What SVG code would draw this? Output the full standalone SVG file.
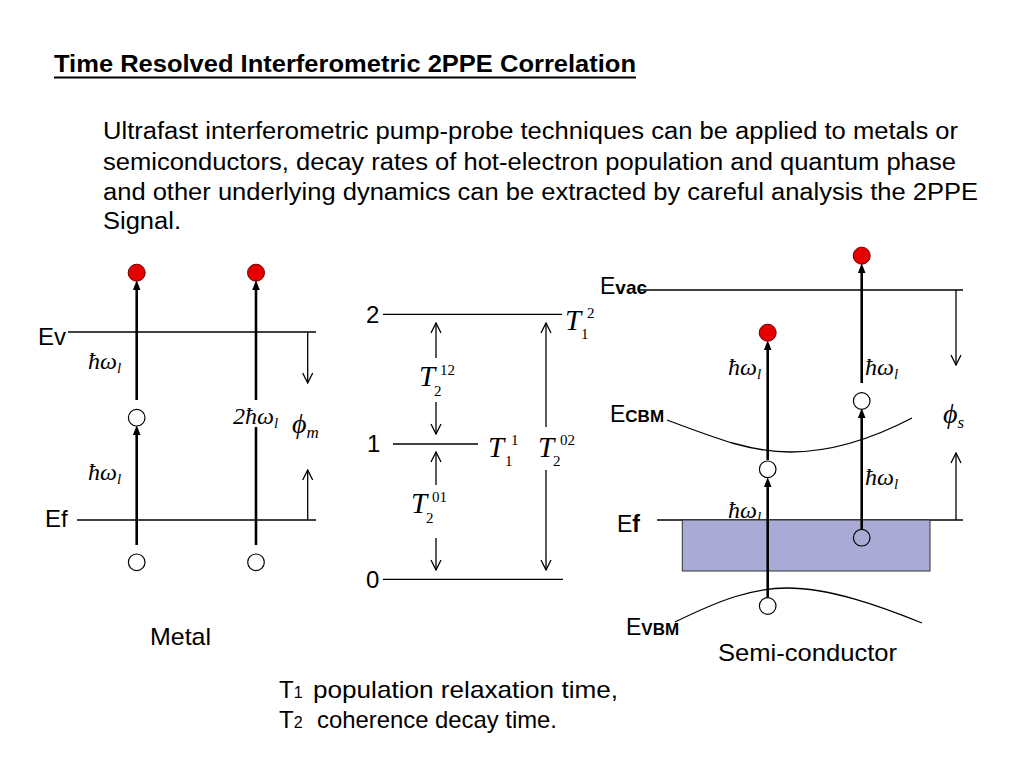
<svg xmlns="http://www.w3.org/2000/svg" width="1024" height="768" viewBox="0 0 1024 768">
<defs>
<style>
.sans{font-family:"Liberation Sans",Arial,sans-serif;fill:#000}
.math{font-family:"Liberation Serif","Times New Roman",serif;font-style:italic;fill:#000}
.idx{font-family:"Liberation Serif","Times New Roman",serif;font-style:normal;font-size:15px;fill:#000}
.bigT{font-size:29px}
.lvl{stroke:#000;stroke-width:1.3;fill:none}
.thick{stroke:#000;stroke-width:2.6;fill:none;marker-end:url(#fa)}
.thin{stroke:#000;stroke-width:1.3;fill:none;marker-end:url(#oa)}
.open{fill:#fff;stroke:#000;stroke-width:1.2}
.red{fill:#e60000;stroke:#600;stroke-width:1}
</style>
<marker id="fa" markerUnits="userSpaceOnUse" markerWidth="10" markerHeight="8" refX="2" refY="3.5" orient="auto" viewBox="0 0 9 7">
<path d="M0,0 L9,3.5 L0,7 z" fill="#000"/>
</marker>
<marker id="oa" markerUnits="userSpaceOnUse" markerWidth="12" markerHeight="12" refX="10" refY="5" orient="auto" viewBox="-1 -1 12 12">
<path d="M0,0 L10,5 L0,10" fill="none" stroke="#000" stroke-width="1.3"/>
</marker>
</defs>
<rect width="1024" height="768" fill="#fff"/>

<g id="title">
<text class="sans" x="54" y="72" font-size="23" font-weight="bold" textLength="582" lengthAdjust="spacingAndGlyphs">Time Resolved Interferometric 2PPE Correlation</text>
<line x1="54" y1="77.5" x2="636" y2="77.5" stroke="#000" stroke-width="2"/>
</g>

<g id="body" class="sans" font-size="23">
<text x="103" y="139" textLength="855" lengthAdjust="spacingAndGlyphs">Ultrafast interferometric pump-probe techniques can be applied to metals or</text>
<text x="103" y="169.5" textLength="853" lengthAdjust="spacingAndGlyphs">semiconductors, decay rates of hot-electron population and quantum phase</text>
<text x="103" y="200" textLength="875" lengthAdjust="spacingAndGlyphs">and other underlying dynamics can be extracted by careful analysis the 2PPE</text>
<text x="103" y="229" textLength="78" lengthAdjust="spacingAndGlyphs">Signal.</text>
</g>

<!-- Metal diagram -->
<g id="metal-levels">
<line class="lvl" x1="68" y1="332" x2="316" y2="332"/>
<line class="lvl" x1="77" y1="520" x2="316" y2="520"/>
<text class="sans" x="38" y="345" font-size="24">Ev</text>
<text class="sans" x="45" y="527" font-size="24">Ef</text>
<text class="sans" x="150" y="645" font-size="24" textLength="61" lengthAdjust="spacingAndGlyphs">Metal</text>
</g>

<g id="connectors">
<!-- metal -->
<line class="thick" x1="136.7" y1="400" x2="136.7" y2="288"/>
<line class="thick" x1="136.7" y1="545" x2="136.7" y2="433"/>
<line class="thick" x1="256" y1="400" x2="256" y2="288"/>
<line x1="256" y1="545" x2="256" y2="427" stroke="#000" stroke-width="2.6"/>
<line class="thin" x1="307.7" y1="332" x2="307.7" y2="383"/>
<line class="thin" x1="307.7" y1="520" x2="307.7" y2="470"/>
<!-- levels diagram -->
<line class="thin" x1="436" y1="358" x2="436" y2="323"/>
<line class="thin" x1="436" y1="402" x2="436" y2="434"/>
<line class="thin" x1="436" y1="485" x2="436" y2="452"/>
<line class="thin" x1="436" y1="538" x2="436" y2="570"/>
<line class="thin" x1="546" y1="427" x2="546" y2="323"/>
<line class="thin" x1="546" y1="470" x2="546" y2="570"/>
<!-- semiconductor -->
<line class="thin" x1="956" y1="290" x2="956" y2="365"/>
<line class="thin" x1="956" y1="520" x2="956" y2="453"/>
</g>

<g id="metal-electrons">
<circle class="red" cx="136.7" cy="272.7" r="8.5"/>
<circle class="red" cx="256" cy="272.7" r="8.5"/>
<circle class="open" cx="136.7" cy="417.7" r="8.3"/>
<circle class="open" cx="136.7" cy="562.3" r="8.3"/>
<circle class="open" cx="256" cy="562.3" r="8.3"/>
</g>

<g id="metal-labels" class="math">
<text x="88" y="369" font-size="24">ħω<tspan font-size="15" dy="4">l</tspan></text>
<text x="88" y="480" font-size="24">ħω<tspan font-size="15" dy="4">l</tspan></text>
<text x="233" y="423.5" font-size="24">2ħω<tspan font-size="15" dy="4">l</tspan></text>
<text x="292" y="433" font-size="28">ϕ<tspan font-size="17" dy="5">m</tspan></text>
</g>

<!-- Level diagram -->
<g id="levels">
<line class="lvl" x1="383" y1="314.3" x2="562" y2="314.3"/>
<line class="lvl" x1="393" y1="444" x2="478" y2="444"/>
<line class="lvl" x1="383" y1="579.3" x2="563" y2="579.3"/>
<text class="sans" x="366" y="323" font-size="24">2</text>
<text class="sans" x="367" y="452" font-size="24">1</text>
<text class="sans" x="366" y="588" font-size="24">0</text>
</g>

<g id="T12">
<text class="math bigT" x="565" y="330">T</text>
<text class="idx" x="587" y="318">2</text>
<text class="idx" x="581" y="339">1</text>
</g>
<g id="T2-12">
<text class="math bigT" x="419" y="386">T</text>
<text class="idx" x="440" y="375">12</text>
<text class="idx" x="434" y="396">2</text>
</g>
<g id="T11">
<text class="math bigT" x="488" y="457">T</text>
<text class="idx" x="511" y="445">1</text>
<text class="idx" x="505" y="466">1</text>
</g>
<g id="T2-02">
<text class="math bigT" x="538" y="457">T</text>
<text class="idx" x="560" y="445">02</text>
<text class="idx" x="553" y="466">2</text>
</g>
<g id="T2-01">
<text class="math bigT" x="411" y="513">T</text>
<text class="idx" x="432" y="502">01</text>
<text class="idx" x="426" y="523">2</text>
</g>

<!-- Semiconductor -->
<g id="semi-levels">
<line class="lvl" x1="640" y1="290" x2="963" y2="290"/>
<line class="lvl" x1="657" y1="520" x2="963" y2="520"/>
<path class="lvl" d="M667,420 C720,440 752,452 790,452 C830,452 870,440 912,418"/>
<path class="lvl" d="M675,622 C720,600 752,588 787,588 C830,588 880,606 922,623"/>
<text class="sans" x="600" y="294" font-size="23">E<tspan font-size="19" font-weight="bold">vac</tspan></text>
<text class="sans" x="610" y="422" font-size="23">E<tspan font-size="17" font-weight="bold">CBM</tspan></text>
<text class="sans" x="617" y="532" font-size="23">E<tspan font-weight="bold">f</tspan></text>
<text class="sans" x="626" y="635" font-size="23">E<tspan font-size="17" font-weight="bold">VBM</tspan></text>
<text class="sans" x="718" y="661" font-size="24" textLength="179" lengthAdjust="spacingAndGlyphs">Semi-conductor</text>
</g>

<g id="semi-labels" class="math">
<text x="728" y="375" font-size="24">ħω<tspan font-size="15" dy="4">l</tspan></text>
<text x="865" y="375" font-size="24">ħω<tspan font-size="15" dy="4">l</tspan></text>
<text x="865" y="485" font-size="24">ħω<tspan font-size="15" dy="4">l</tspan></text>
<text x="728" y="518" font-size="24">ħω<tspan font-size="15" dy="4">l</tspan></text>
<text x="943" y="423" font-size="28">ϕ<tspan font-size="17" dy="5">s</tspan></text>
</g>

<g id="band">
<rect x="682.3" y="520" width="247.7" height="51" fill="#aaaad6" stroke="#333" stroke-width="1"/>
</g>

<g id="semi-connectors">
<line class="thick" x1="767.7" y1="460" x2="767.7" y2="348"/>
<line class="thick" x1="767.7" y1="597" x2="767.7" y2="485"/>
<line class="thick" x1="861.7" y1="383" x2="861.7" y2="271"/>
<line class="thick" x1="861.7" y1="529" x2="861.7" y2="416"/>
</g>

<g id="semi-electrons">
<circle class="red" cx="861.7" cy="255.7" r="8.5"/>
<circle class="red" cx="767.7" cy="332.7" r="8.5"/>
<circle class="open" cx="861.7" cy="401" r="8.3"/>
<circle class="open" cx="767.7" cy="469.3" r="8.3"/>
<circle class="open" cx="767.7" cy="606" r="8.3"/>
<circle cx="861.7" cy="537.7" r="8.3" fill="#aaaad6" stroke="#000" stroke-width="1.2"/>
</g>

<g id="legend" class="sans">
<text x="279" y="698" font-size="24">T<tspan font-size="16">1</tspan></text>
<text x="313" y="698" font-size="24" textLength="305" lengthAdjust="spacingAndGlyphs">population relaxation time,</text>
<text x="279" y="728" font-size="24">T<tspan font-size="16">2</tspan></text>
<text x="317" y="728" font-size="24" textLength="240" lengthAdjust="spacingAndGlyphs">coherence decay time.</text>
</g>
</svg>
